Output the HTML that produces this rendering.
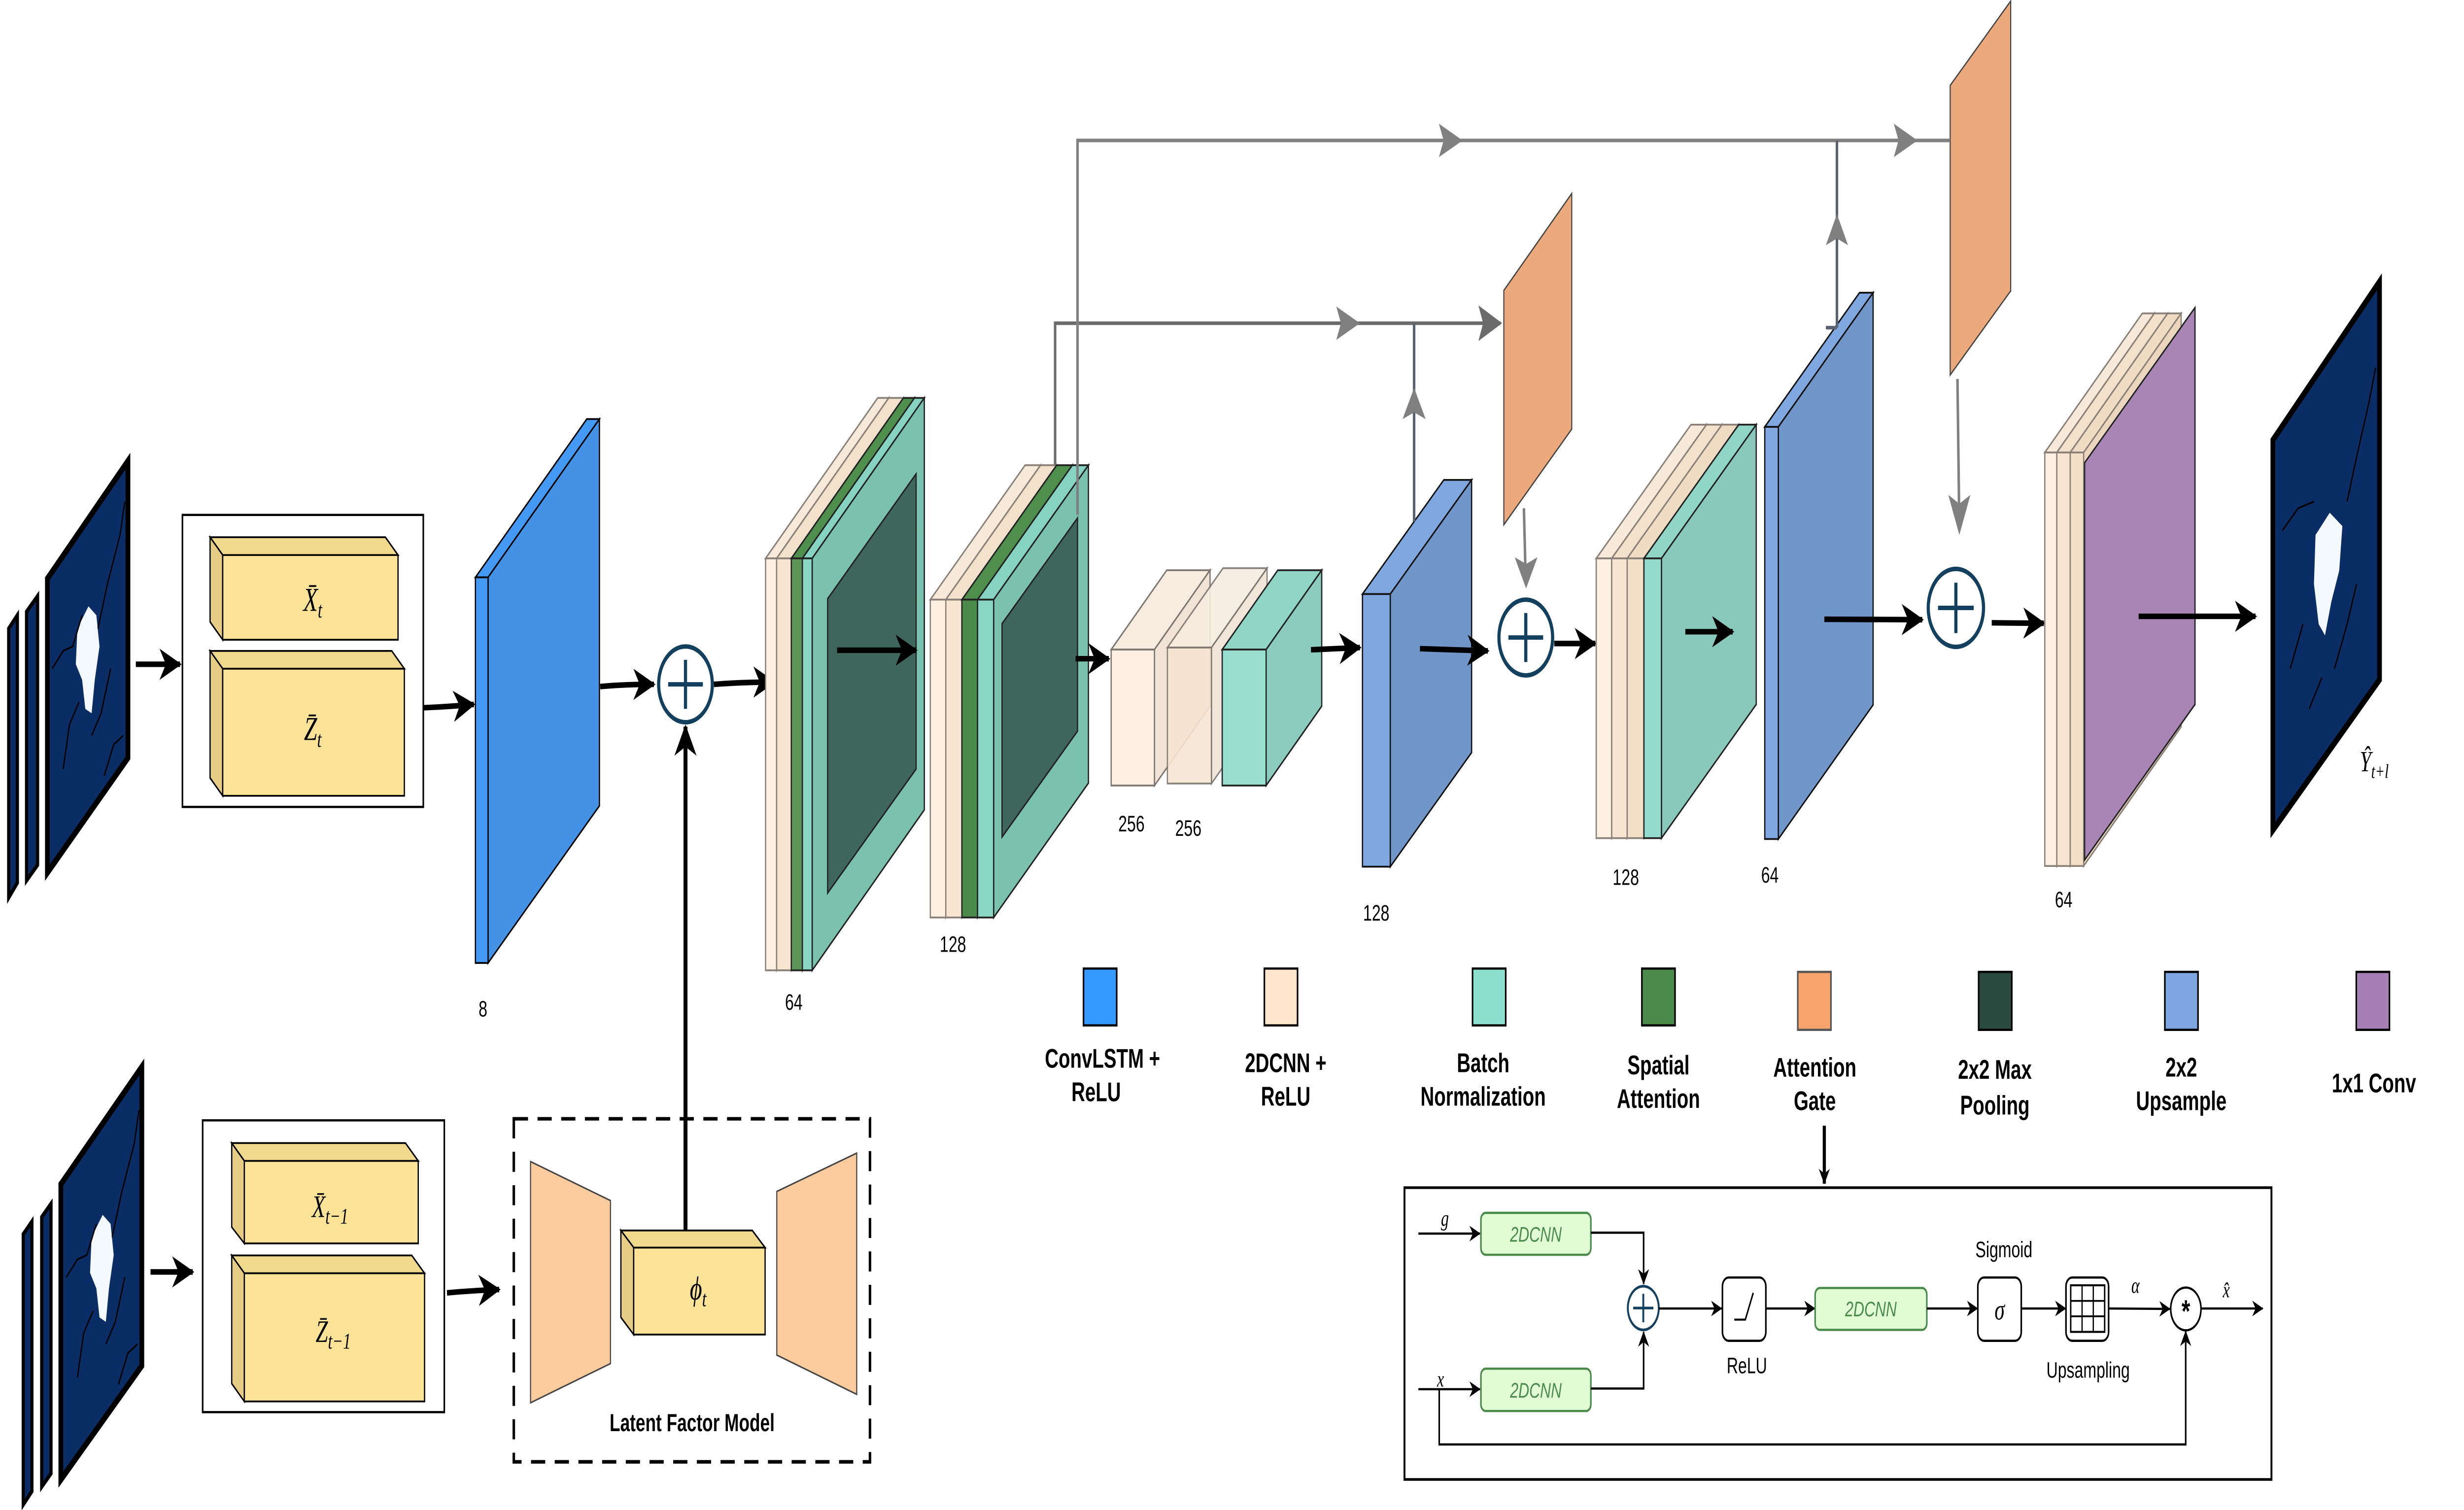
<!DOCTYPE html>
<html><head><meta charset="utf-8"><style>
html,body{margin:0;padding:0;background:#fff;overflow:hidden;width:100vw;height:100vh;}
svg{display:block;width:100vw;height:100vh;}
text{font-family:"Liberation Sans",sans-serif;}
.m{font-family:"Liberation Serif",serif;font-style:italic;}
.lg{font-weight:bold;font-size:12px;text-anchor:middle;}
.n{font-size:10px;}
</style></head><body>
<svg viewBox="0 0 1560 677.4" preserveAspectRatio="none" xmlns="http://www.w3.org/2000/svg">
<defs>
<marker id="a" viewBox="0 0 14 14" refX="13" refY="7" markerWidth="14" markerHeight="14" markerUnits="userSpaceOnUse" orient="auto"><path d="M0,0 L14,7 L0,14 L4,7 Z" fill="#000"/></marker>
<marker id="s" viewBox="0 0 10 10" refX="9.5" refY="5" markerWidth="7" markerHeight="7" markerUnits="userSpaceOnUse" orient="auto"><path d="M0,0 L10,5 L0,10 L3,5 Z" fill="#000"/></marker>
</defs>
<rect width="1560" height="677.4" fill="#fff"/>

<!-- ===== top input images ===== -->
<polygon points="5.5,282 11,276 11,396 5.5,402.7" fill="#0a2d66" stroke="#000" stroke-width="2"/>
<polygon points="16.8,274.4 23.8,267.4 23.8,388 16.8,395" fill="#0a2d66" stroke="#000" stroke-width="2"/>
<polygon points="30,259.6 81,206.8 81,340 30,391.5" fill="#0a2d66" stroke="#000" stroke-width="3"/>
<path d="M49,282 L56,272 L61,276 L63,290 L60,305 L58,320 L54,318 L52,305 L48,298 Z" fill="#f4f8ff"/>
<path d="M33,300 L40,292 L46,290 L52,276 M62,282 L68,262 L76,240 L79,225 M40,345 L44,325 L50,315 M58,330 L64,320 L70,300 M66,348 L72,334 L78,330" fill="none" stroke="#000" stroke-width="0.8"/>

<line x1="86" y1="298" x2="114" y2="298" stroke="#000" stroke-width="2.5" marker-end="url(#a)"/>

<!-- Xt Zt box -->
<rect x="115.5" y="231" width="152.5" height="131" fill="#fff" stroke="#000" stroke-width="1"/>
<polygon points="133,241 244,241 252,249 141,249" fill="#f0d98c" stroke="#000" stroke-width="0.8"/>
<polygon points="133,241 141,249 141,287 133,279" fill="#e6cc84" stroke="#000" stroke-width="0.8"/>
<rect x="141" y="249" width="111" height="38" fill="#fde398" stroke="#000" stroke-width="0.8"/>
<text x="198" y="274" class="m" font-size="15" text-anchor="middle">X̄<tspan font-size="10" dy="3">t</tspan></text>
<polygon points="133,292 248,292 256,300 141,300" fill="#f0d98c" stroke="#000" stroke-width="0.8"/>
<polygon points="133,292 141,300 141,357 133,349" fill="#e6cc84" stroke="#000" stroke-width="0.8"/>
<rect x="141" y="300" width="115" height="57" fill="#fde398" stroke="#000" stroke-width="0.8"/>
<text x="198" y="332" class="m" font-size="15" text-anchor="middle">Z̄<tspan font-size="10" dy="3">t</tspan></text>

<path d="M268,317.5 Q285,317 300,316" fill="none" stroke="#000" stroke-width="2.5" marker-end="url(#a)"/>

<!-- ConvLSTM slab -->
<polygon points="301,259 371.5,188 379.5,188 309,259" fill="#4499f5" stroke="#000" stroke-width="0.8"/>
<polygon points="309,259 379.5,188 379.5,361.5 309,432" fill="#4492e6" stroke="#000" stroke-width="0.8"/>
<rect x="301" y="259" width="8" height="173" fill="#4499f5" stroke="#000" stroke-width="0.8"/>
<text x="303" y="456" class="n">8</text>

<path d="M380,308 Q395,307 414,307" fill="none" stroke="#000" stroke-width="2.5" marker-end="url(#a)"/>
<circle cx="434" cy="307" r="17" fill="#fff" stroke="#13405e" stroke-width="2"/>
<path d="M423,307 H445 M434,296 V318" stroke="#13405e" stroke-width="2"/>
<line x1="434" y1="552" x2="434" y2="326" stroke="#000" stroke-width="2.5" marker-end="url(#a)"/>
<path d="M452,307 Q470,306 490,306" fill="none" stroke="#000" stroke-width="2.5" marker-end="url(#a)"/>

<!-- 64 encoder stack -->
<g stroke-width="0.8">
<polygon points="484.7,250.5 555.7,178.5 562.7,178.5 491.7,250.5" fill="#f7eadb" stroke="#8a8077"/>
<polygon points="491.7,250.5 562.7,178.5 562.7,363.3 491.7,435.3" fill="#f3e3d0" stroke="#8a8077"/>
<rect x="484.7" y="250.5" width="7" height="184.8" fill="#fdf0e3" stroke="#8a8077"/>
<polygon points="491.7,250.5 562.7,178.5 572,178.5 501,250.5" fill="#f3e1cb" stroke="#8a8077"/>
<polygon points="501,250.5 572,178.5 572,363.3 501,435.3" fill="#efdcc5" stroke="#8a8077"/>
<rect x="491.7" y="250.5" width="9.3" height="184.8" fill="#f7e5d2" stroke="#8a8077"/>
<polygon points="501,250.5 572,178.5 579,178.5 508,250.5" fill="#4f8f4d" stroke="#222"/>
<polygon points="508,250.5 579,178.5 579,363.3 508,435.3" fill="#4a8a4a" stroke="#222"/>
<rect x="501" y="250.5" width="7" height="184.8" fill="#5a9457" stroke="#222"/>
<polygon points="508,250.5 579,178.5 585.2,178.5 514.2,250.5" fill="#86d3c1" stroke="#222"/>
<polygon points="514.2,250.5 585.2,178.5 585.2,363.3 514.2,435.3" fill="#7bc2ae" stroke="#222"/>
<rect x="508" y="250.5" width="6.2" height="184.8" fill="#8ad6c4" stroke="#222"/>
<polygon points="524,268.6 580,212.6 580,345 524,400.6" fill="#3e665a" stroke="#222"/>
</g>
<line x1="530" y1="291.7" x2="580" y2="291.7" stroke="#000" stroke-width="2.5" marker-end="url(#a)"/>
<text x="497" y="453" class="n">64</text>

<!-- 128 encoder stack -->
<g stroke-width="0.8">
<polygon points="589,269 649,208.7 658.8,208.7 598.8,269" fill="#f7eadb" stroke="#8a8077"/>
<polygon points="598.8,269 658.8,208.7 658.8,351.3 598.8,411.6" fill="#f3e3d0" stroke="#8a8077"/>
<rect x="589" y="269" width="9.8" height="142.6" fill="#fdf0e3" stroke="#8a8077"/>
<polygon points="598.8,269 658.8,208.7 669,208.7 609,269" fill="#f3e1cb" stroke="#8a8077"/>
<polygon points="609,269 669,208.7 669,351.3 609,411.6" fill="#efdcc5" stroke="#8a8077"/>
<rect x="598.8" y="269" width="10.2" height="142.6" fill="#f7e5d2" stroke="#8a8077"/>
<polygon points="609,269 669,208.7 678.9,208.7 618.9,269" fill="#4f8f4d" stroke="#222"/>
<polygon points="618.9,269 678.9,208.7 678.9,351.3 618.9,411.6" fill="#4a8a4a" stroke="#222"/>
<rect x="609" y="269" width="9.9" height="142.6" fill="#4a8a4a" stroke="#222"/>
<polygon points="618.9,269 678.9,208.7 689.1,208.7 629.1,269" fill="#86d3c1" stroke="#222"/>
<polygon points="629.1,269 689.1,208.7 689.1,351.3 629.1,411.6" fill="#7bc2ae" stroke="#222"/>
<rect x="618.9" y="269" width="10.2" height="142.6" fill="#8ad6c4" stroke="#222"/>
<polygon points="634.4,279.8 682.2,232.4 682.2,328 634.4,375.5" fill="#3e665a" stroke="#222"/>
</g>
<text x="595" y="427" class="n">128</text>
<line x1="681" y1="295.5" x2="702" y2="295.5" stroke="#000" stroke-width="2.5" marker-end="url(#a)"/>

<!-- 256 blocks -->
<g stroke-width="0.8">
<polygon points="703.5,291.4 738.7,255.8 766.1,255.8 730.9,291.4" fill="#f8ece0" stroke="#7d7670"/>
<polygon points="730.9,291.4 766.1,255.8 766.1,316.8 730.9,352.4" fill="#f1e4d6" stroke="#7d7670"/>
<rect x="703.5" y="291.4" width="27.4" height="61" fill="#fdf0e3" stroke="#7d7670"/>
<polygon points="739.1,290.5 774.3,254.9 802.2,254.9 767,290.5" fill="#f8ece0" stroke="#7d7670" opacity="0.9"/>
<polygon points="767,290.5 802.2,254.9 802.2,315.9 767,351.5" fill="#f1e4d6" stroke="#7d7670" opacity="0.9"/>
<rect x="739.1" y="290.5" width="27.9" height="61" fill="#f7e5d2" stroke="#7d7670" opacity="0.9"/>
<polygon points="773.8,291.4 809,255.8 836.8,255.8 801.6,291.4" fill="#8fd6c6" stroke="#222"/>
<polygon points="801.6,291.4 836.8,255.8 836.8,316.8 801.6,352.4" fill="#8bccbe" stroke="#222"/>
<rect x="773.8" y="291.4" width="27.8" height="61" fill="#98dfd0" stroke="#222"/>
</g>
<text x="708" y="373" class="n">256</text>
<text x="744" y="375" class="n">256</text>
<line x1="830" y1="291.5" x2="861" y2="290.5" stroke="#000" stroke-width="2.5" marker-end="url(#a)"/>

<!-- Upsample 128 -->
<polygon points="862.6,266.5 914.1,215.3 931.7,215.3 880.2,266.5" fill="#7fa7e0" stroke="#111" stroke-width="0.8"/>
<polygon points="880.2,266.5 931.7,215.3 931.7,337.6 880.2,388.8" fill="#7196c9" stroke="#111" stroke-width="0.8"/>
<rect x="862.6" y="266.5" width="17.6" height="122.3" fill="#7fa7e0" stroke="#111" stroke-width="0.8"/>
<text x="863" y="413" class="n">128</text>
<line x1="899" y1="291" x2="942" y2="292" stroke="#000" stroke-width="2.5" marker-end="url(#a)"/>

<!-- plus 2 -->
<circle cx="966" cy="286" r="17" fill="#fff" stroke="#13405e" stroke-width="2"/>
<path d="M955,286 H977 M966,275 V297" stroke="#13405e" stroke-width="2"/>
<line x1="984" y1="288.7" x2="1010" y2="288.7" stroke="#000" stroke-width="2.5" marker-end="url(#a)"/>

<!-- encoder2 128 stack -->
<g stroke-width="0.8">
<polygon points="1010.6,250.5 1070.6,190.5 1080.4,190.5 1020.4,250.5" fill="#f7eadb" stroke="#8a8077"/>
<polygon points="1020.4,250.5 1080.4,190.5 1080.4,316 1020.4,376" fill="#f3e3d0" stroke="#8a8077"/>
<rect x="1010.6" y="250.5" width="9.8" height="125.5" fill="#fdf0e3" stroke="#8a8077"/>
<polygon points="1020.4,250.5 1080.4,190.5 1090.2,190.5 1030.2,250.5" fill="#f3e1cb" stroke="#8a8077"/>
<polygon points="1030.2,250.5 1090.2,190.5 1090.2,316 1030.2,376" fill="#efdcc5" stroke="#8a8077"/>
<rect x="1020.4" y="250.5" width="9.8" height="125.5" fill="#f7e5d2" stroke="#8a8077"/>
<polygon points="1030.2,250.5 1090.2,190.5 1100.8,190.5 1040.8,250.5" fill="#f0dcc2" stroke="#8a8077"/>
<polygon points="1040.8,250.5 1100.8,190.5 1100.8,316 1040.8,376" fill="#ecd7be" stroke="#8a8077"/>
<rect x="1030.2" y="250.5" width="10.6" height="125.5" fill="#f3dfc6" stroke="#8a8077"/>
<polygon points="1040.8,250.5 1100.8,190.5 1111.9,190.5 1051.9,250.5" fill="#8fd6c6" stroke="#222"/>
<polygon points="1051.9,250.5 1111.9,190.5 1111.9,316 1051.9,376" fill="#89c9bb" stroke="#222"/>
<rect x="1040.8" y="250.5" width="11.1" height="125.5" fill="#93dccd" stroke="#222"/>
</g>
<text x="1021" y="397" class="n">128</text>
<line x1="1067" y1="283.4" x2="1097" y2="283.4" stroke="#000" stroke-width="2.5" marker-end="url(#a)"/>

<!-- Upsample 64 -->
<polygon points="1117.3,191.5 1177.3,131.3 1185.9,131.3 1125.9,191.5" fill="#7fa7e0" stroke="#111" stroke-width="0.8"/>
<polygon points="1125.9,191.5 1185.9,131.3 1185.9,316.2 1125.9,376.4" fill="#7196c9" stroke="#111" stroke-width="0.8"/>
<rect x="1117.3" y="191.5" width="8.6" height="184.9" fill="#7fa7e0" stroke="#111" stroke-width="0.8"/>
<text x="1115" y="396" class="n">64</text>
<line x1="1155" y1="277.8" x2="1217" y2="278" stroke="#000" stroke-width="2.5" marker-end="url(#a)"/>

<!-- plus 3 -->
<circle cx="1238.3" cy="272.7" r="17.5" fill="#fff" stroke="#13405e" stroke-width="2"/>
<path d="M1227,272.7 H1249.6 M1238.3,261.4 V284" stroke="#13405e" stroke-width="2"/>
<line x1="1261" y1="279.4" x2="1294" y2="279.6" stroke="#000" stroke-width="2.5" marker-end="url(#a)"/>

<!-- final stack -->
<g stroke-width="0.8">
<polygon points="1294.6,203 1356.3,140.6 1363.9,140.6 1302.2,203" fill="#f7eadb" stroke="#8a8077"/>
<polygon points="1302.2,203 1363.9,140.6 1363.9,326.1 1302.2,388.5" fill="#f3e3d0" stroke="#8a8077"/>
<rect x="1294.6" y="203" width="7.6" height="185.5" fill="#fdf0e3" stroke="#8a8077"/>
<polygon points="1302.2,203 1363.9,140.6 1372.4,140.6 1310.7,203" fill="#f3e1cb" stroke="#8a8077"/>
<polygon points="1310.7,203 1372.4,140.6 1372.4,326.1 1310.7,388.5" fill="#efdcc5" stroke="#8a8077"/>
<rect x="1302.2" y="203" width="8.5" height="185.5" fill="#f7e5d2" stroke="#8a8077"/>
<polygon points="1310.7,203 1372.4,140.6 1380.9,140.6 1319.2,203" fill="#f0dcc2" stroke="#8a8077"/>
<polygon points="1319.2,203 1380.9,140.6 1380.9,326.1 1319.2,388.5" fill="#ecd7be" stroke="#8a8077"/>
<rect x="1310.7" y="203" width="8.5" height="185.5" fill="#f3dfc6" stroke="#8a8077"/>
<polygon points="1319.8,207.6 1389.7,138 1389.7,316 1319.8,385.8" fill="#a885b5" stroke="#222"/>
</g>
<text x="1301" y="407" class="n">64</text>
<line x1="1354" y1="276.5" x2="1428" y2="276.5" stroke="#000" stroke-width="2.5" marker-end="url(#a)"/>

<!-- output image -->
<polygon points="1439,197.4 1506.5,126.4 1506.5,304.9 1439,372.4" fill="#0a2d66" stroke="#000" stroke-width="3"/>
<path d="M1466,240 L1475,230 L1483,236 L1481,256 L1476,270 L1472,285 L1468,280 L1465,262 Z" fill="#f4f8ff"/>
<path d="M1445,238 L1455,228 L1465,225 M1486,225 L1492,205 L1500,180 L1504,165 M1450,300 L1458,280 M1478,300 L1486,280 L1492,262 M1462,318 L1470,304" fill="none" stroke="#000" stroke-width="0.8"/>
<text x="1494" y="346" class="m" font-size="13">Ŷ<tspan font-size="9" dy="3">t+l</tspan></text>

<!-- attention gates -->
<polygon points="952.1,130.3 995.1,86.8 995.1,192.5 952.1,235.4" fill="#eca97b" stroke="#444" stroke-width="0.7"/>
<polygon points="1234.7,38.3 1273,0.5 1273,130.5 1234.7,168.2" fill="#eca97b" stroke="#444" stroke-width="0.7"/>

<!-- gray skip connections -->
<g fill="none" stroke-width="1.6">
<path d="M668,208.7 V145 H950" stroke="#6b6b6b"/>
<path d="M682.2,231 V63 H1234.7" stroke="#808080"/>
<path d="M895.3,234 V145" stroke="#596270"/>
<path d="M1163,147 V63" stroke="#596270"/>
<path d="M1156,147 H1163" stroke="#596270"/>
<path d="M964.8,228 L966,262" stroke="#808080"/>
<path d="M1239.3,170 L1240.5,238" stroke="#808080"/>
</g>
<g fill="#808080">
<polygon points="861,145 846,137.5 849,145 846,152.5"/>
<polygon points="951,145 936,137 939,145 936,153" fill="#6b6b6b"/>
<polygon points="926,63 911,55.5 914,63 911,70.5"/>
<polygon points="1214,63 1199,55.5 1202,63 1199,70.5"/>
<polygon points="895.3,174 888,188 895.3,185 902.6,188"/>
<polygon points="1163,96 1156,110 1163,107 1170,110"/>
<polygon points="966.2,264 959,250 966.2,253 973.4,250"/>
<polygon points="1240.5,240 1233.5,222 1240.5,226 1247.5,222"/>
</g>

<!-- legend -->
<rect x="686" y="434.5" width="21" height="25.5" fill="#3399ff" stroke="#000" stroke-width="1"/>
<rect x="800.5" y="434.5" width="21" height="25.5" fill="#ffe6cc" stroke="#000" stroke-width="1"/>
<rect x="932.3" y="434.5" width="21" height="25.5" fill="#8ddfd0" stroke="#000" stroke-width="1"/>
<rect x="1039.5" y="434.5" width="21" height="25.5" fill="#4a8a4a" stroke="#000" stroke-width="1"/>
<rect x="1138.2" y="436" width="21" height="26" fill="#f8a46c" stroke="#555" stroke-width="1"/>
<rect x="1252.7" y="436" width="21" height="26" fill="#2a4a40" stroke="#000" stroke-width="1"/>
<rect x="1370.6" y="436" width="21" height="26" fill="#7ea6e0" stroke="#000" stroke-width="1"/>
<rect x="1491.8" y="436" width="21" height="26" fill="#a67fb6" stroke="#000" stroke-width="1"/>
<text class="lg" x="698" y="479">ConvLSTM +</text><text class="lg" x="694" y="494">ReLU</text>
<text class="lg" x="814" y="481">2DCNN +</text><text class="lg" x="814" y="496">ReLU</text>
<text class="lg" x="939" y="481">Batch</text><text class="lg" x="939" y="496">Normalization</text>
<text class="lg" x="1050" y="482">Spatial</text><text class="lg" x="1050" y="497">Attention</text>
<text class="lg" x="1149" y="483">Attention</text><text class="lg" x="1149" y="498">Gate</text>
<text class="lg" x="1263" y="484">2x2 Max</text><text class="lg" x="1263" y="500">Pooling</text>
<text class="lg" x="1381" y="483">2x2</text><text class="lg" x="1381" y="498">Upsample</text>
<text class="lg" x="1503" y="490">1x1 Conv</text>
<line x1="1155" y1="505" x2="1155" y2="531" stroke="#000" stroke-width="2" marker-end="url(#s)"/>

<!-- attention gate detail -->
<rect x="889.2" y="532.8" width="548.9" height="130.9" fill="#fff" stroke="#000" stroke-width="1.2"/>
<text x="914.8" y="550" class="m" font-size="10" text-anchor="middle">g</text>
<line x1="898" y1="553.4" x2="937" y2="553.4" stroke="#000" stroke-width="1" marker-end="url(#s)"/>
<rect x="937.6" y="544.1" width="69.6" height="18.8" rx="3" fill="#e1fcd5" stroke="#4a8a4a" stroke-width="1"/>
<text x="972.4" y="557" font-size="9.5" font-style="italic" fill="#4a8a4a" text-anchor="middle">2DCNN</text>
<path d="M1007.2,553 H1040.6 V576" fill="none" stroke="#000" stroke-width="1" marker-end="url(#s)"/>
<text x="912" y="622" class="m" font-size="10" text-anchor="middle">x</text>
<line x1="898" y1="623.2" x2="937" y2="623.2" stroke="#000" stroke-width="1" marker-end="url(#s)"/>
<rect x="937.6" y="614" width="69.6" height="19" rx="3" fill="#e1fcd5" stroke="#4a8a4a" stroke-width="1"/>
<text x="972.4" y="627" font-size="9.5" font-style="italic" fill="#4a8a4a" text-anchor="middle">2DCNN</text>
<path d="M1007.2,622.9 H1040.6 V597.5" fill="none" stroke="#000" stroke-width="1" marker-end="url(#s)"/>
<circle cx="1040.4" cy="586.8" r="9.8" fill="#fff" stroke="#13405e" stroke-width="1.2"/>
<path d="M1034,586.8 H1046.8 M1040.4,580.4 V593.2" stroke="#13405e" stroke-width="1.2"/>
<line x1="1050.2" y1="587" x2="1090" y2="587" stroke="#000" stroke-width="1" marker-end="url(#s)"/>
<rect x="1090.5" y="573.1" width="27.5" height="28.4" rx="4" fill="#fff" stroke="#000" stroke-width="1"/>
<path d="M1098,592 H1105 L1110,580" fill="none" stroke="#000" stroke-width="0.9"/>
<text x="1106" y="616" font-size="10" text-anchor="middle">ReLU</text>
<line x1="1118" y1="587" x2="1149" y2="587" stroke="#000" stroke-width="1" marker-end="url(#s)"/>
<rect x="1149.2" y="577.8" width="70.7" height="18.8" rx="3" fill="#e1fcd5" stroke="#4a8a4a" stroke-width="1"/>
<text x="1184.5" y="590.5" font-size="9.5" font-style="italic" fill="#4a8a4a" text-anchor="middle">2DCNN</text>
<line x1="1219.9" y1="587" x2="1252" y2="587" stroke="#000" stroke-width="1" marker-end="url(#s)"/>
<rect x="1252.2" y="573.1" width="27.5" height="28.4" rx="4" fill="#fff" stroke="#000" stroke-width="1"/>
<text x="1266" y="592" class="m" font-size="13" text-anchor="middle">σ</text>
<text x="1268.7" y="564" font-size="10" text-anchor="middle">Sigmoid</text>
<line x1="1279.7" y1="587" x2="1307.8" y2="587" stroke="#000" stroke-width="1" marker-end="url(#s)"/>
<rect x="1308" y="573.1" width="27" height="28.4" rx="4" fill="#fff" stroke="#000" stroke-width="1"/>
<rect x="1311" y="576.6" width="21.5" height="20.9" fill="#fff" stroke="#000" stroke-width="0.9"/>
<path d="M1318.2,576.6 V597.5 M1325.3,576.6 V597.5 M1311,583.6 H1332.5 M1311,590.5 H1332.5" stroke="#000" stroke-width="0.8"/>
<text x="1322" y="618" font-size="10" text-anchor="middle">Upsampling</text>
<text x="1352" y="580" class="m" font-size="10" text-anchor="middle">α</text>
<line x1="1335" y1="587" x2="1373.8" y2="587.2" stroke="#000" stroke-width="1" marker-end="url(#s)"/>
<circle cx="1383.9" cy="587.2" r="9.6" fill="#fff" stroke="#000" stroke-width="1"/>
<text x="1383.9" y="593" font-size="14" font-weight="bold" text-anchor="middle">*</text>
<text x="1409.5" y="582" class="m" font-size="10" text-anchor="middle">x̂</text>
<line x1="1394" y1="587" x2="1432.6" y2="587" stroke="#000" stroke-width="1" marker-end="url(#s)"/>
<path d="M911.2,623 V648 H1383.8 V597.2" fill="none" stroke="#000" stroke-width="1" marker-end="url(#s)"/>

<!-- ===== bottom section ===== -->
<polygon points="14.7,553.7 20.2,548 20.2,669 14.7,675" fill="#0a2d66" stroke="#000" stroke-width="2"/>
<polygon points="26.4,546 32.3,540 32.3,661 26.4,667" fill="#0a2d66" stroke="#000" stroke-width="2"/>
<polygon points="38.5,531.3 89.8,478.6 89.8,612.7 38.5,663.8" fill="#0a2d66" stroke="#000" stroke-width="3"/>
<path d="M58,555 L65,545 L70,549 L72,563 L69,578 L67,593 L63,591 L61,578 L57,571 Z" fill="#f4f8ff"/>
<path d="M42,573 L49,565 L55,563 L61,549 M71,555 L77,535 L85,513 L88,498 M49,618 L53,598 L59,588 M67,603 L73,593 L79,573 M75,621 L81,607 L87,603" fill="none" stroke="#000" stroke-width="0.8"/>
<line x1="95.3" y1="570.6" x2="122" y2="570.6" stroke="#000" stroke-width="2.5" marker-end="url(#a)"/>

<rect x="128.3" y="502.6" width="153" height="130.9" fill="#fff" stroke="#000" stroke-width="1"/>
<polygon points="146.7,512.8 256.7,512.8 264.8,520.8 154.7,520.8" fill="#f0d98c" stroke="#000" stroke-width="0.8"/>
<polygon points="146.7,512.8 154.7,520.8 154.7,557.8 146.7,550.5" fill="#e6cc84" stroke="#000" stroke-width="0.8"/>
<rect x="154.7" y="520.8" width="110.1" height="37" fill="#fde398" stroke="#000" stroke-width="0.8"/>
<text x="209" y="546" class="m" font-size="14" text-anchor="middle">X̄<tspan font-size="10" dy="3">t−1</tspan></text>
<polygon points="146.7,563.2 260.7,563.2 268.8,571.2 154.7,571.2" fill="#f0d98c" stroke="#000" stroke-width="0.8"/>
<polygon points="146.7,563.2 154.7,571.2 154.7,628.7 146.7,620.7" fill="#e6cc84" stroke="#000" stroke-width="0.8"/>
<rect x="154.7" y="571.2" width="114.1" height="57.5" fill="#fde398" stroke="#000" stroke-width="0.8"/>
<text x="211" y="602" class="m" font-size="14" text-anchor="middle">Z̄<tspan font-size="10" dy="3">t−1</tspan></text>

<path d="M283,580 Q298,579 316,578.5" fill="none" stroke="#000" stroke-width="2.5" marker-end="url(#a)"/>

<rect x="325.3" y="501.9" width="225.5" height="153.9" fill="none" stroke="#000" stroke-width="1.6" stroke-dasharray="9,6"/>
<polygon points="335.9,521.1 386.5,538.6 386.5,611.7 335.9,629.3" fill="#fdcc9e" stroke="#444" stroke-width="0.7"/>
<polygon points="491.8,534.5 542.4,517.3 542.4,625.5 491.8,607.9" fill="#fdcc9e" stroke="#444" stroke-width="0.7"/>
<polygon points="393.1,552 476.3,552 484.4,559.7 401.2,559.7" fill="#f0d98c" stroke="#000" stroke-width="0.8"/>
<polygon points="393.1,552 401.2,559.7 401.2,598.7 393.1,591" fill="#e6cc84" stroke="#000" stroke-width="0.8"/>
<rect x="401.2" y="559.7" width="83.2" height="39" fill="#fde398" stroke="#000" stroke-width="0.8"/>
<text x="442" y="583" class="m" font-size="15" text-anchor="middle">ϕ<tspan font-size="10" dy="3">t</tspan></text>
<text x="438.2" y="642" font-size="11" font-weight="bold" text-anchor="middle">Latent Factor Model</text>
</svg>
</body></html>
